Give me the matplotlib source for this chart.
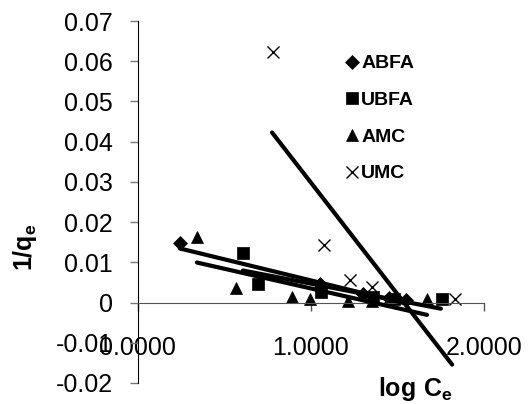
import matplotlib
matplotlib.use('Agg')
import matplotlib.pyplot as plt
from matplotlib.ticker import FuncFormatter
import numpy as np

plt.rcParams['font.family'] = ['Liberation Sans', 'DejaVu Sans']
plt.rcParams['mathtext.fontset'] = 'custom'
plt.rcParams['mathtext.rm'] = 'Liberation Sans'
plt.rcParams['mathtext.bf'] = 'Liberation Sans:bold'

# scatter data (log Ce, 1/qe)
abfa_x = [0.243, 1.05, 1.30, 1.45, 1.55]
abfa_y = [0.0147, 0.0045, 0.0022, 0.0012, 0.0006]
ubfa_x = [0.607, 0.694, 1.058, 1.36, 1.48, 1.757]
ubfa_y = [0.0124, 0.0047, 0.0025, 0.0014, 0.0010, 0.0010]
amc_x = [0.341, 0.566, 0.89, 0.994, 1.214, 1.35, 1.45, 1.67]
amc_y = [0.0162, 0.0035, 0.0015, 0.0010, 0.0003, 0.0003, 0.0010, 0.0009]
umc_x = [0.78, 1.075, 1.225, 1.35, 1.83]
umc_y = [0.0622, 0.0144, 0.0057, 0.0038, 0.0010]

# linear trend lines: (x start, x end, intercept, slope)
abfa_fit = (0.243, 1.55, 0.0160, -0.0105)
ubfa_fit = (0.607, 1.75, 0.0130, -0.0083)
amc_fit = (0.341, 1.67, 0.0133, -0.0098)
umc_fit = (0.775, 1.815, 0.0853, -0.0555)

fig = plt.figure(figsize=(5.28, 4.04), dpi=100)
ax = fig.add_axes([0.261, 0.052, 0.656, 0.896])

series = [
    ('ABFA', abfa_x, abfa_y, abfa_fit, 'D', 7),
    ('UBFA', ubfa_x, ubfa_y, ubfa_fit, 's', 8),
    ('AMC', amc_x, amc_y, amc_fit, '^', 8.5),
    ('UMC', umc_x, umc_y, umc_fit, 'x', 8),
]

for name, xs, ys, fit, mk, ms in series:
    ax.plot(xs, ys, linestyle='none', marker=mk, markersize=ms, color='black',
            markeredgewidth=1.0 if mk == 'x' else 0.5, label=name)
for name, xs, ys, fit, mk, ms in series:
    x0, x1, b, m = fit
    lx = np.array([x0, x1])
    ax.plot(lx, b + m * lx, color='black', lw=3, solid_capstyle='round', zorder=3)

ax.set_xlim(0, 2)
ax.set_ylim(-0.02, 0.07)
ax.set_xticks([0, 1, 2])
ax.set_yticks(np.arange(-0.02, 0.071, 0.01))
ax.xaxis.set_major_formatter(FuncFormatter(lambda v, p: f'{v:.4f}'))
ax.yaxis.set_major_formatter(FuncFormatter(lambda v, p: '0' if abs(v) < 1e-9 else f'{v:.2f}'))

ax.spines['top'].set_visible(False)
ax.spines['right'].set_visible(False)
ax.spines['bottom'].set_position(('data', 0))
ax.spines['bottom'].set_color('#555555')
ax.spines['left'].set_color('black')
ax.tick_params(axis='y', direction='out', length=6, width=1, color='#777777',
               labelsize=18, pad=12)
ax.tick_params(axis='x', direction='out', length=6, width=1, color='#555555',
               labelsize=18, pad=18)

ax.set_ylabel(r'$\mathbf{1/q_e}$', fontsize=18)
ax.yaxis.set_label_coords(-0.285, 0.376)
ax.set_xlabel(r'$\mathbf{log\ C_e}$', fontsize=18)
ax.xaxis.set_label_coords(0.803, -0.017)
ax.xaxis.label.set_va('center')

leg = ax.legend(loc='upper left', bbox_to_anchor=(0.55, 0.955), frameon=False,
                handlelength=0.6, handletextpad=0.2, labelspacing=0.98,
                prop={'size': 14, 'weight': 'bold'})

fig.savefig('out.png', dpi=100)
